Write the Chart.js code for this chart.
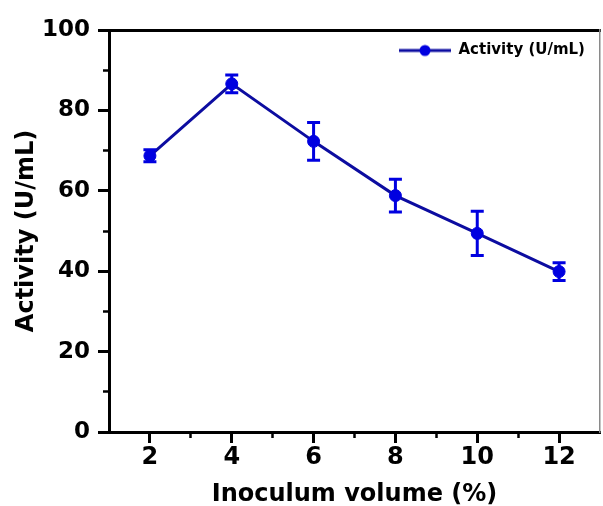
<!DOCTYPE html>
<html>
<head>
<meta charset="utf-8">
<script src="https://cdn.jsdelivr.net/npm/chart.js@4.4.1/dist/chart.umd.min.js"></script>
<style>
  body { margin: 0; background: #fff; }
  canvas { display: block; }
</style>
</head>
<body>
<canvas id="inoculumChart" width="603" height="506"></canvas>
<script>
const inoculum = [2, 4, 6, 8, 10, 12];
const activity = [68.7, 86.6, 72.3, 58.8, 49.4, 39.9];
const activityErr = [1.5, 2.2, 4.7, 4.1, 5.5, 2.2];
const xTicks = [2, 4, 6, 8, 10, 12];
const xMinorTicks = [3, 5, 7, 9, 11];
const yTicks = [0, 20, 40, 60, 80, 100];
const yMinorTicks = [10, 30, 50, 70, 90];

const lineBlue = '#0c0ca0';
const dotBlue = '#0000e0';
const fontName = 'DejaVu Sans';

// legend sample: line with a dot in the middle
const legendMark = document.createElement('canvas');
legendMark.width = 52;
legendMark.height = 14;
const lctx = legendMark.getContext('2d');
lctx.strokeStyle = lineBlue;
lctx.lineWidth = 3;
lctx.beginPath();
lctx.moveTo(0, 7);
lctx.lineTo(52, 7);
lctx.stroke();
lctx.fillStyle = dotBlue;
lctx.beginPath();
lctx.arc(26, 7, 5.5, 0, Math.PI * 2);
lctx.fill();

const errorBars = {
  id: 'errorBars',
  afterDatasetsDraw(chart) {
    const {ctx, scales: {x, y}} = chart;
    ctx.save();
    ctx.strokeStyle = dotBlue;
    ctx.lineWidth = 3;
    inoculum.forEach((v, i) => {
      const px = x.getPixelForValue(v);
      const top = y.getPixelForValue(activity[i] + activityErr[i]);
      const bot = y.getPixelForValue(activity[i] - activityErr[i]);
      ctx.beginPath();
      ctx.moveTo(px, top); ctx.lineTo(px, bot);
      ctx.moveTo(px - 6.5, top); ctx.lineTo(px + 6.5, top);
      ctx.moveTo(px - 6.5, bot); ctx.lineTo(px + 6.5, bot);
      ctx.stroke();
    });
    ctx.restore();
  }
};

// put the legend in the top right corner of the plot
const legendCorner = {
  id: 'legendCorner',
  afterLayout(chart) {
    const lg = chart.legend;
    const area = chart.chartArea;
    lg.left = area.right - 211;
    lg.right = lg.left + lg.width;
    lg.top = area.top + 3;
    lg.bottom = lg.top + lg.height;
  }
};

const setTicks = vals => s => { s.ticks = vals.map(v => ({value: v})); };
const bold = size => ({family: fontName, size: size, weight: 'bold'});

const config = {
  type: 'line',
  data: {
    datasets: [{
      label: 'Activity (U/mL)',
      data: inoculum.map((v, i) => ({x: v, y: activity[i]})),
      borderColor: lineBlue,
      borderWidth: 3,
      pointRadius: 6,
      pointBackgroundColor: dotBlue,
      pointBorderColor: dotBlue,
      pointBorderWidth: 1,
      tension: 0
    }]
  },
  options: {
    responsive: false,
    animation: false,
    devicePixelRatio: 1,
    layout: { autoPadding: false, padding: { top: 30, right: 3, left: 0, bottom: 0 } },
    scales: {
      x: {
        type: 'linear', min: 1, max: 13, position: 'bottom', weight: 1,
        afterBuildTicks: setTicks(xTicks),
        afterFit: s => { s.height = 74; },
        grid: { drawOnChartArea: false, tickLength: 11, tickWidth: 3, tickColor: '#000' },
        border: { color: '#000', width: 3 },
        ticks: { color: '#000', font: bold(24), padding: 0, maxRotation: 0 },
        title: { display: true, text: 'Inoculum volume (%)', color: '#000', font: bold(24), padding: { top: 0, bottom: -3 } }
      },
      xMinor: {
        type: 'linear', min: 1, max: 13, position: 'bottom', weight: 0,
        afterBuildTicks: setTicks(xMinorTicks),
        afterFit: s => { s.height = 0; },
        grid: { drawOnChartArea: false, tickLength: 6, tickWidth: 2.5, tickColor: '#000' },
        border: { display: false },
        ticks: { display: false }
      },
      y: {
        type: 'linear', min: 0, max: 100, position: 'left', weight: 1,
        afterBuildTicks: setTicks(yTicks),
        afterFit: s => { s.width = 109; },
        grid: { drawOnChartArea: false, tickLength: 11, tickWidth: 3, tickColor: '#000' },
        border: { color: '#000', width: 3 },
        ticks: { color: '#000', font: bold(23), padding: 8 },
        title: { display: true, text: 'Activity (U/mL)', color: '#000', font: bold(24), padding: { top: 12, bottom: 0 } }
      },
      yMinor: {
        type: 'linear', min: 0, max: 100, position: 'left', weight: 0,
        afterBuildTicks: setTicks(yMinorTicks),
        afterFit: s => { s.width = 0; },
        grid: { drawOnChartArea: false, tickLength: 6, tickWidth: 2.5, tickColor: '#000' },
        border: { display: false },
        ticks: { display: false }
      },
      xTop: {
        type: 'linear', min: 1, max: 13, position: 'top',
        afterFit: s => { s.height = 0; },
        grid: { display: false },
        ticks: { display: false },
        border: { color: '#000', width: 3 }
      },
      yRight: {
        type: 'linear', min: 0, max: 100, position: 'right',
        afterFit: s => { s.width = 0; },
        grid: { display: false },
        ticks: { display: false },
        border: { color: '#8a8a8a', width: 1.5 }
      }
    },
    plugins: {
      legend: {
        position: 'chartArea',
        align: 'start',
        labels: {
          usePointStyle: true,
          pointStyle: legendMark,
          pointStyleWidth: 52,
          color: '#000',
          font: bold(15),
          padding: 10
        }
      },
      tooltip: { enabled: false }
    }
  },
  plugins: [errorBars, legendCorner]
};

let inoculumGraph = new Chart(document.getElementById('inoculumChart'), config);
</script>
</body>
</html>
